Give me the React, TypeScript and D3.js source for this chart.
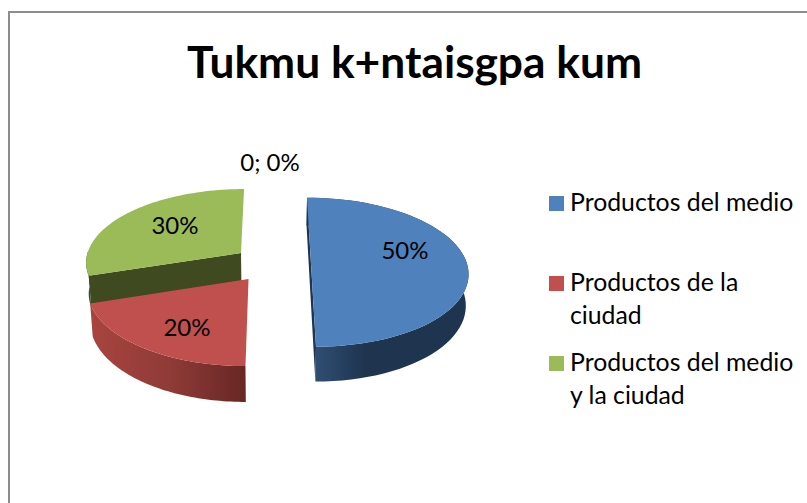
import React from "react";
import * as d3 from "d3";

const categories = ["Productos del medio", "Productos de la ciudad", "Productos del medio y la ciudad", ""];
const seriesValues = [50, 20, 30, 0];
const dataLabels = ["50%", "20%", "30%", "0; 0%"];
const legendLines = [["Productos del medio"], ["Productos de la", "ciudad"], ["Productos del medio", "y la ciudad"]];
const topColors = ["#4f81bd", "#c0504d", "#9bbb59"];
const titleText = "Tukmu k+ntaisgpa kum";

const FONT = "Lato, Carlito, Calibri, sans-serif";

// perspective model of the pie
const VX = 272, VY = -385, A = 648.7, H = 31, K = 0.986, R = 156, D = 1376, EXPLODE = 39;
const START = 0;

type P = [number, number];
const project = (X: number, Z: number, low: boolean): P => {
  const s = 1 / (1 - Z / D);
  return [VX + X * s * (low ? K : 1), VY + (A + (low ? H : 0)) * s];
};

const pie = d3.pie<number>().sort(null).startAngle(START).endAngle(START + 2 * Math.PI);
const arcs = pie(seriesValues);
const line = d3.line<P>();

const rimAngles = (a0: number, a1: number) => d3.range(0, 61).map((i) => a0 + ((a1 - a0) * i) / 60);

function sliceGeom(a0: number, a1: number) {
  const mid = (a0 + a1) / 2;
  const cX = EXPLODE * Math.sin(mid);
  const cZ = -EXPLODE * Math.cos(mid);
  const rim = rimAngles(a0, a1).map((t) => [cX + R * Math.sin(t), cZ - R * Math.cos(t)] as P);
  const top = rim.map(([x, z]) => project(x, z, false));
  const low = rim.map(([x, z]) => project(x, z, true));
  const apexT = project(cX, cZ, false);
  const apexL = project(cX, cZ, true);
  return { top, low, apexT, apexL };
}

const geoms = arcs.slice(0, 3).map((a) => sliceGeom(a.startAngle, a.endAngle));
const [blue, red, green] = geoms;

const closed = (pts: P[]) => (line(pts) as string) + "Z";

export default function App() {
  return (
    <svg width={807} height={503} style={{ position: "fixed", left: 0, top: 0, background: "#fff" }} fontFamily={FONT}>
      <defs>
        <linearGradient id="blueWall" gradientUnits="userSpaceOnUse" x1={316} x2={365} y1={0} y2={0}>
          <stop offset="0" stopColor="#2f4e73" />
          <stop offset="1" stopColor="#1f344f" />
        </linearGradient>
        <linearGradient id="redWall" gradientUnits="userSpaceOnUse" x1={92} x2={246} y1={0} y2={0}>
          <stop offset="0" stopColor="#a8443f" />
          <stop offset="0.5" stopColor="#8f3b37" />
          <stop offset="1" stopColor="#672725" />
        </linearGradient>
      </defs>
      <path d="M9,503V12H807" fill="none" stroke="#8c8c8c" strokeWidth={2} />
      <text x={414.5} y={77.5} textAnchor="middle" fontSize={43} fontWeight={700} fill="#000" textLength={455} lengthAdjust="spacingAndGlyphs">{titleText}</text>

      {/* green slice: only the front-facing stretch of its outer wall can show */}
      <path d={closed([...green.top.slice(0, 12), ...green.low.slice(0, 12).reverse()])} fill="#3f4a20" />
      <path d={closed([green.top[0], green.apexT, green.apexL, green.low[0]])} fill="#3f4a20" />
      <path d={closed([green.apexT, ...green.top])} fill={topColors[2]} />

      {/* red slice */}
      <path d={closed([...red.top, ...[...red.low].reverse()])} fill="url(#redWall)" />
      <path d={closed([red.apexT, ...red.top])} fill={topColors[1]} />

      {/* blue slice */}
      <path d={closed([...blue.top, ...[...blue.low].reverse()])} fill="url(#blueWall)" />
      <path d={closed([blue.top[0], blue.apexT, blue.top[60], blue.low[60], blue.apexL, blue.low[0]])} fill="#1f344f" />
      <path d={closed([blue.apexT, ...blue.top])} fill={topColors[0]} />

      {/* data labels */}
      <g fontSize={24} fill="#000" textAnchor="middle">
        <text x={405} y={259}>{dataLabels[0]}</text>
        <text x={187} y={336}>{dataLabels[1]}</text>
        <text x={175} y={234}>{dataLabels[2]}</text>
        <text x={270} y={171}>{dataLabels[3]}</text>
      </g>

      {/* legend */}
      <g fontSize={24.8} fill="#000">
        {legendLines.map((ls, i) => {
          const y0 = [211, 291, 371][i];
          return (
            <g key={categories[i]}>
              <rect x={549} y={y0 - 15} width={15} height={15} fill={topColors[i]} />
              {ls.map((l, j) => (
                <text key={l} x={570} y={y0 + j * 33}>{l}</text>
              ))}
            </g>
          );
        })}
      </g>
    </svg>
  );
}
